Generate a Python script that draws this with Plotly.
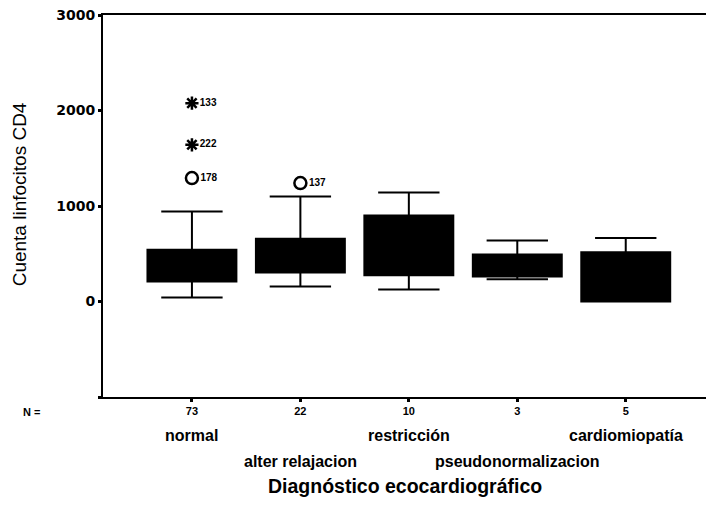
import plotly.graph_objects as go

# Data (SPSS-style boxplot)
categories = ["normal", "alter relajacion", "restricción", "pseudonormalizacion", "cardiomiopatía"]
n_counts = ["73", "22", "10", "3", "5"]
q1 = [209, 304, 276, 262, 0]
median = [370, 470, 560, 350, 180]
q3 = [541, 656, 901, 492, 517]
lower_whisker = [42, 157, 126, 232, 0]
upper_whisker = [942, 1100, 1141, 639, 664]

# Outliers: (category index, value, case label)
extreme_x = [0, 0]
extreme_y = [2077, 1641]
extreme_lbl = ["133", "222"]
outlier_x = [0, 1]
outlier_y = [1292, 1240]
outlier_lbl = ["178", "137"]

y_ticks = [-1000, 0, 1000, 2000, 3000]
y_tick_text = ["", "0", "1000", "2000", "3000"]

FONT = "Liberation Sans, Arial, sans-serif"
xpos = list(range(len(categories)))

fig = go.Figure()
fig.add_trace(go.Box(
    x=xpos, q1=q1, median=median, q3=q3,
    lowerfence=lower_whisker, upperfence=upper_whisker,
    boxpoints=False, width=0.82, whiskerwidth=0.69,
    fillcolor="black", line=dict(color="black", width=2),
    showlegend=False, hoverinfo="skip",
))
fig.add_trace(go.Scatter(
    x=extreme_x, y=extreme_y, mode="markers+text", text=extreme_lbl,
    textposition="middle right",
    textfont=dict(family=FONT, size=10, color="black", weight="bold"),
    marker=dict(symbol="asterisk-open", size=11, color="black",
                line=dict(color="black", width=2.5)),
    showlegend=False, cliponaxis=False,
))
fig.add_trace(go.Scatter(
    x=outlier_x, y=outlier_y, mode="markers+text", text=outlier_lbl,
    textposition="middle right",
    textfont=dict(family=FONT, size=10, color="black", weight="bold"),
    marker=dict(symbol="circle-open", size=12, color="black",
                line=dict(color="black", width=2.5)),
    showlegend=False, cliponaxis=False,
))

annotations = []
# category labels in two staggered rows
for i, name in enumerate(categories):
    row_y = -0.1 if i % 2 == 0 else -0.17
    annotations.append(dict(
        x=i, y=row_y, xref="x", yref="paper", text=name, showarrow=False,
        xanchor="center", yanchor="middle",
        font=dict(family=FONT, size=16, color="black", weight="bold"),
    ))
annotations.append(dict(
    x=-0.119, y=-0.038, xref="paper", yref="paper", text="N =", showarrow=False,
    xanchor="center", yanchor="middle",
    font=dict(family=FONT, size=11, color="black", weight="bold"),
))
annotations.append(dict(
    x=0.5, y=-0.234, xref="paper", yref="paper", text="Diagnóstico ecocardiográfico",
    showarrow=False, xanchor="center", yanchor="middle",
    font=dict(family=FONT, size=19.5, color="black", weight="bold"),
))
annotations.append(dict(
    x=-0.138, y=0.53, xref="paper", yref="paper", text="Cuenta linfocitos CD4",
    showarrow=False, xanchor="center", yanchor="middle", textangle=-90,
    font=dict(family=FONT, size=19, color="black"),
))

fig.update_layout(
    width=706, height=521,
    margin=dict(l=103, r=0, t=15, b=124, autoexpand=False),
    paper_bgcolor="white", plot_bgcolor="white",
    annotations=annotations,
    xaxis=dict(
        range=[-0.82, 4.74], tickvals=xpos, ticktext=n_counts,
        showline=True, linecolor="black", linewidth=2, mirror=True,
        ticks="outside", ticklen=3, tickwidth=3, tickcolor="black",
        showgrid=False, zeroline=False, automargin=False,
        tickfont=dict(family=FONT, size=11, color="black", weight="bold"),
    ),
    yaxis=dict(
        range=[-1000, 3000], tickvals=y_ticks, ticktext=y_tick_text,
        showline=True, linecolor="black", linewidth=2,
        ticks="outside", ticklen=3, tickwidth=3, tickcolor="black",
        showgrid=False, zeroline=False, automargin=False,
        tickfont=dict(family="DejaVu Sans, sans-serif", size=14, color="black",
                      weight="bold"),
    ),
)
fig.write_html("out.html", config={"displayModeBar": False},
               post_script="document.body.style.margin='0';document.body.style.overflow='hidden';")
